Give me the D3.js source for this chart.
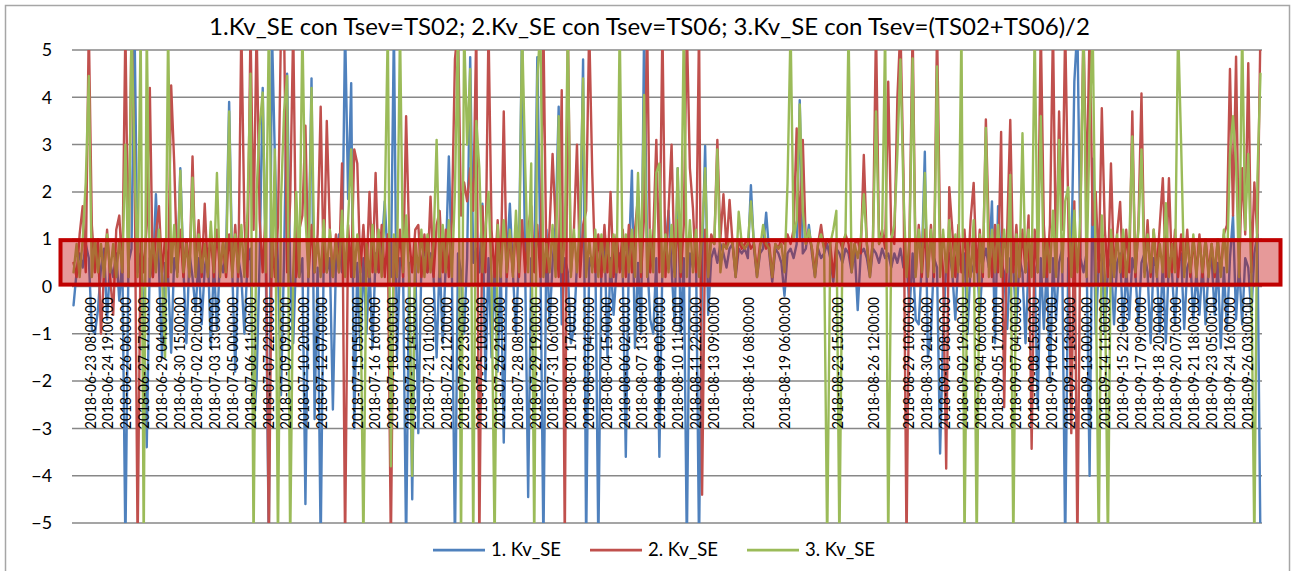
<!DOCTYPE html>
<html><head><meta charset="utf-8">
<script src="https://cdn.jsdelivr.net/npm/d3@7"></script>
<style>body{margin:0;background:#fff}svg{display:block}</style>
</head><body><svg id="c" width="1292" height="571"></svg>
<script>
// ---------------- data ----------------
const chartTitle = "1.Kv_SE con Tsev=TS02; 2.Kv_SE con Tsev=TS06; 3.Kv_SE con Tsev=(TS02+TS06)/2";
const seriesNames = ["1. Kv_SE", "2. Kv_SE", "3. Kv_SE"];
const seriesColors = ["#4F81BD", "#C0504D", "#9BBB59"];
const yTicks = [5, 4, 3, 2, 1, 0, -1, -2, -3, -4, -5];
// category axis: hourly categories, one label every 35 categories (blank = empty category label)
const tickLabels = [
"2018-06-23 08:00:00","2018-06-24 19:00:00","2018-06-26 06:00:00","2018-06-27 17:00:00","2018-06-29 04:00:00",
"2018-06-30 15:00:00","2018-07-02 02:00:00","2018-07-03 13:00:00","2018-07-05 00:00:00","2018-07-06 11:00:00",
"2018-07-07 22:00:00","2018-07-09 09:00:00","2018-07-10 20:00:00","2018-07-12 07:00:00","",
"2018-07-15 05:00:00","2018-07-16 16:00:00","2018-07-18 03:00:00","2018-07-19 14:00:00","2018-07-21 01:00:00",
"2018-07-22 12:00:00","2018-07-23 23:00:00","2018-07-25 10:00:00","2018-07-26 21:00:00","2018-07-28 08:00:00",
"2018-07-29 19:00:00","2018-07-31 06:00:00","2018-08-01 17:00:00","2018-08-03 04:00:00","2018-08-04 15:00:00",
"2018-08-06 02:00:00","2018-08-07 13:00:00","2018-08-09 00:00:00","2018-08-10 11:00:00","2018-08-11 22:00:00",
"2018-08-13 09:00:00","","2018-08-16 08:00:00","","2018-08-19 06:00:00",
"","","2018-08-23 15:00:00","","2018-08-26 12:00:00",
"","2018-08-29 10:00:00","2018-08-30 21:00:00","2018-09-01 08:00:00","2018-09-02 19:00:00",
"2018-09-04 06:00:00","2018-09-05 17:00:00","2018-09-07 04:00:00","2018-09-08 15:00:00","2018-09-10 02:00:00",
"2018-09-11 13:00:00","2018-09-13 00:00:00","2018-09-14 11:00:00","2018-09-15 22:00:00","2018-09-17 09:00:00",
"2018-09-18 20:00:00","2018-09-20 07:00:00","2018-09-21 18:00:00","2018-09-23 05:00:00","2018-09-24 16:00:00",
"2018-09-26 03:00:00"];
const N_CATEGORIES = 2340;
const FIRST_LABEL_CATEGORY = 35;
const LABEL_INTERVAL = 35;
const CATEGORIES_PER_POINT = 6;   // values, one per 6 categories
const highlightBand = [0.04, 0.98]; // red highlighted range of the y axis

const kv1 = [
-0.4,0.3,0.7,0.4,0.9,0.6,-0.9,-1.0,-0.5,0.4,
0.8,-0.7,0.5,0.2,0.7,-0.3,0.6,-5.5,0.5,0.8,
5.5,0.3,0.7,-0.5,-3.4,0.6,0.2,1.95,0.4,-1.5,
0.5,0.2,-1.4,0.6,0.3,2.5,0.4,-1.2,0.7,0.2,
-0.5,0.6,-0.8,0.4,0.8,-1.3,0.5,-0.9,0.6,0.3,
0.7,3.9,0.4,-1.8,0.6,0.2,-1.0,0.5,0.8,-3.0,
-2.0,0.6,4.2,0.5,-5.5,5.5,2.7,0.4,-2.3,0.6,
4.5,0.3,-1.2,0.7,0.2,0.6,-4.6,0.5,4.4,-2.8,
0.4,-5.5,0.7,0.3,0.6,-2.6,0.5,1.1,0.3,5.5,
1.85,4.3,-3.0,0.5,-1.35,0.6,-1.0,0.4,-1.3,0.7,
0.3,0.8,1.8,0.5,0.2,5.5,-1.5,0.6,0.4,-5.5,
0.5,-4.5,0.6,-3.1,0.5,0.8,0.3,0.7,0.2,-1.5,
0.6,-1.2,0.5,2.75,0.4,-5.5,0.7,0.3,-1.0,0.6,
4.85,0.5,0.8,0.3,1.75,-2.0,0.6,-1.5,0.4,-1.8,
0.5,-3.3,0.6,1.75,0.3,-1.0,0.7,5.5,0.5,-4.45,
0.6,0.4,4.85,0.7,-5.5,1.2,-0.8,0.5,1.3,3.8,
-0.8,0.6,0.3,-1.2,-0.9,0.5,0.7,4.8,-5.5,0.6,
0.4,0.8,-5.5,0.5,1.1,-1.5,0.6,-0.6,0.4,0.7,
0.3,-3.6,0.6,2.45,-1.3,0.5,-1.0,5.5,0.6,-0.7,
-1.0,0.6,-3.6,0.5,0.8,1.6,0.4,-0.8,2.5,-1.0,
0.6,-5.5,0.7,0.4,0.8,-5.5,0.5,2.97,-0.6,0.6,
0.8,0.5,0.9,0.7,0.4,0.8,0.9,0.2,0.8,0.7,
0.8,0.6,2.14,0.8,0.2,0.7,0.8,1.56,0.7,0.1,
0.8,0.7,0.5,-0.2,0.7,0.8,0.6,0.9,3.94,0.7,
0.8,1.3,0.7,0.2,0.8,0.6,0.7,0.9,0.6,0.1,
0.8,0.7,0.5,0.8,0.7,0.3,0.8,-0.5,0.7,0.8,
0.6,0.2,0.8,0.7,0.5,0.8,0.6,0.7,0.4,0.7,
0.5,0.8,0.4,0.6,-0.5,0.7,-0.7,-0.8,0.5,2.85,
-1.5,-1.0,0.6,0.4,-3.53,-1.0,0.5,0.7,0.3,-0.7,
0.6,0.4,0.7,-1.0,0.5,0.3,0.7,-0.6,0.5,0.8,
0.4,1.8,-1.2,1.7,0.5,0.3,-0.9,0.6,0.4,-0.8,
0.6,0.3,-1.2,0.5,0.7,0.4,-2.55,0.6,-0.9,0.5,
-2.0,0.6,-0.7,0.5,0.8,-5.5,0.6,0.4,4.33,5.5,
0.6,0.3,0.7,-4.0,2.7,-1.0,0.5,0.7,-1.0,0.4,
0.6,-0.8,0.5,0.7,-0.9,0.4,-0.7,0.6,0.3,-0.8,
0.5,0.7,0.3,-1.2,0.6,0.4,-1.0,0.5,-1.2,0.6,
0.3,-0.8,0.5,0.7,-0.9,0.4,0.6,-0.7,0.3,-0.6,
0.5,-0.8,0.4,0.6,-0.6,0.5,-1.3,0.4,-0.9,0.6,
1.5,-0.7,0.5,-0.8,0.6,0.4,-0.6,0.7,1.1,-5.5];

const kv2 = [
0.5,0.2,1.1,1.7,0.3,5.5,1.3,0.3,1.0,-1.0,
0.3,1.2,0.2,-0.6,1.2,1.5,0.3,5.5,0.2,5.5,
2.7,-5.5,1.0,0.3,1.3,4.2,0.2,1.1,1.7,0.3,
1.0,0.2,4.25,2.6,0.3,1.2,0.2,1.0,0.3,2.75,
0.3,1.4,0.2,1.75,0.3,1.1,0.2,1.2,0.3,0.9,
0.2,1.1,0.3,1.3,0.2,5.5,1.35,0.2,5.5,1.2,
5.5,1.4,0.3,1.6,-5.5,1.1,0.2,1.3,5.5,5.5,
0.3,1.8,5.5,0.2,1.2,1.5,3.4,0.2,1.3,0.3,
1.1,3.8,0.3,3.5,1.2,0.2,1.1,0.3,2.6,-5.5,
1.3,0.2,2.9,2.6,0.3,1.3,0.2,2.0,0.3,2.4,
0.3,1.3,0.2,1.1,-5.5,1.0,0.3,1.2,0.2,3.6,
1.0,0.3,1.2,1.3,0.2,1.1,0.3,1.9,0.2,1.3,
1.6,0.3,1.2,0.2,1.4,4.8,5.5,1.5,2.2,1.8,
2.5,1.6,5.5,-5.5,1.7,0.3,5.5,1.2,0.2,1.4,
0.3,3.7,0.2,1.1,0.3,1.3,0.2,1.4,0.3,1.2,
1.7,0.3,1.3,0.2,5.5,0.3,1.2,2.8,1.3,0.2,
4.15,-5.5,5.5,0.3,1.2,3.0,0.2,1.3,1.6,5.5,
2.4,0.3,1.1,0.2,1.3,0.3,2.0,0.2,1.1,0.3,
1.2,0.2,1.3,0.3,1.2,1.9,0.2,1.5,5.5,0.3,
1.1,3.1,0.3,5.5,0.2,1.6,3.0,0.3,1.4,0.2,
1.3,5.5,2.5,1.65,0.3,5.5,-4.4,1.2,0.3,1.1,
0.9,3.1,1.0,1.95,0.8,1.83,0.9,0.3,1.0,0.8,
0.9,1.0,0.8,0.9,0.3,0.9,1.0,0.8,0.9,0.2,
0.9,0.8,1.0,0.9,1.1,0.9,1.2,3.34,1.0,3.1,
0.9,1.1,0.8,0.3,0.9,1.3,0.8,1.0,0.9,0.2,
0.9,1.0,0.8,1.1,0.9,0.4,0.9,1.0,0.7,2.78,
0.9,0.3,1.0,5.5,0.9,1.2,0.8,4.33,1.1,0.9,
3.98,5.5,2.39,-5.5,1.2,5.5,0.3,1.3,0.2,1.2,
0.3,1.3,0.2,5.5,1.1,0.3,-3.85,2.1,1.2,0.2,
1.3,0.3,1.2,0.2,1.4,2.19,0.3,1.2,0.2,3.53,
1.1,0.2,1.3,0.3,3.27,-2.55,1.2,3.52,0.3,1.3,
0.2,1.2,0.3,1.5,-3.43,1.2,0.3,5.5,1.3,0.2,
1.3,5.5,0.3,3.7,1.2,5.5,1.6,-3.1,1.8,-5.5,
1.5,5.5,1.8,5.5,1.3,2.0,0.3,3.77,1.2,0.2,
2.6,0.3,1.1,1.79,0.2,1.2,0.3,3.7,0.2,1.3,
4.08,0.3,1.4,0.2,1.2,0.3,1.3,2.29,0.2,2.29,
0.3,1.2,0.2,1.1,0.3,1.2,0.2,1.0,0.3,1.1,
0.2,1.0,0.3,0.9,0.2,1.0,0.3,1.1,1.3,4.6,
1.5,4.86,0.3,2.5,1.1,4.72,0.3,2.2,1.0,5.5];

const kv3 = [
0.3,0.9,0.2,1.0,2.2,4.45,0.2,1.0,0.3,0.9,
0.2,1.1,0.3,0.9,0.2,1.0,0.3,3.0,0.2,5.5,
2.6,0.2,5.5,-5.5,5.5,0.2,1.0,0.3,1.2,0.2,
-1.5,5.5,0.3,1.3,0.2,2.45,0.3,0.9,0.2,2.3,
0.2,1.1,0.3,0.9,0.2,1.37,0.3,2.4,0.2,1.0,
0.3,3.7,0.2,1.1,0.3,1.3,0.2,1.6,4.5,-5.5,
2.0,3.4,4.1,0.3,5.5,0.2,2.9,-5.5,1.8,3.7,
4.45,-5.5,0.3,2.0,0.2,5.5,1.5,0.2,4.2,0.3,
1.0,0.2,1.4,0.3,1.2,0.2,1.0,0.3,1.6,0.2,
1.4,2.9,0.2,1.1,0.3,-5.5,0.9,0.2,1.3,0.3,
1.2,0.2,1.6,5.5,-3.8,1.1,0.2,5.5,0.3,1.5,
0.2,-4.0,1.0,0.3,1.2,0.2,1.1,0.3,0.9,3.1,
0.2,1.3,0.3,1.4,0.2,2.0,5.5,-5.5,5.5,3.0,
4.6,-5.5,3.5,2.5,0.3,1.2,2.0,0.2,-5.5,1.3,
0.2,1.4,0.3,1.2,0.2,1.6,0.3,5.5,2.6,0.3,
2.6,-5.5,4.4,5.5,0.2,0.9,0.3,1.3,0.2,3.6,
0.3,1.0,5.5,0.2,1.2,0.3,1.5,4.4,0.2,1.0,
0.3,1.2,0.2,1.1,0.3,1.0,0.2,1.1,0.3,5.5,
0.2,1.1,0.3,1.2,0.2,2.4,0.3,4.05,0.2,1.2,
0.3,2.4,2.6,0.2,1.1,0.3,1.3,0.2,2.5,0.3,
5.5,0.2,1.4,0.3,1.2,0.2,1.1,2.5,0.2,1.0,
0.9,2.9,0.3,0.9,0.8,1.0,0.9,0.2,1.58,0.9,
0.8,0.9,1.8,0.9,0.2,0.8,1.3,0.9,0.8,0.2,
0.9,0.8,0.9,0.3,2.18,5.5,1.0,1.4,3.85,1.6,
0.9,1.2,0.8,0.2,0.9,1.1,0.8,-5.5,0.9,1.2,
1.6,-5.5,0.9,1.1,5.5,0.3,0.9,0.6,1.0,1.95,
0.9,0.2,1.0,3.7,0.9,1.1,5.5,-5.5,1.0,1.3,
2.8,4.8,2.0,0.2,1.0,4.82,0.2,1.2,0.3,2.4,
0.2,1.2,0.3,4.65,0.2,1.2,0.3,1.4,0.2,1.1,
0.3,5.5,-5.5,1.0,0.2,1.4,-5.5,1.1,0.3,3.35,
0.2,1.2,0.3,1.3,0.2,1.2,0.3,2.36,-5.5,1.1,
0.2,3.24,0.3,1.2,0.2,5.5,0.3,3.6,0.2,1.0,
0.3,1.6,0.2,3.1,0.3,1.8,2.1,0.2,1.6,0.3,
1.5,5.5,0.2,3.4,5.5,0.3,-5.5,1.5,0.2,-5.5,
1.2,0.2,1.1,0.3,1.2,0.2,0.9,3.17,0.3,1.2,
2.9,0.2,1.1,0.3,1.2,0.2,0.9,0.3,1.76,0.2,
0.9,0.3,5.5,3.0,0.2,1.0,0.3,1.1,0.2,1.0,
0.3,1.0,0.2,0.9,0.3,1.0,0.2,1.2,0.3,2.8,
3.6,2.6,0.2,5.5,1.2,2.8,0.3,-5.5,2.3,4.5];

// ---------------- drawing ----------------
const FONT = "Lato, 'Open Sans', 'Liberation Sans', sans-serif";
const plot = {left: 72, right: 1262, top: 50, bottom: 523};
const svg = d3.select("#c");

const x = d3.scaleLinear().domain([0, N_CATEGORIES]).range([plot.left, plot.right]);
const y = d3.scaleLinear().domain([-5, 5]).range([plot.bottom, plot.top]);

function fitSize(text, targetWidth, base) {
  const t = svg.append("text").attr("font-family", FONT).attr("font-size", base).text(text);
  const w = t.node().getComputedTextLength();
  t.remove();
  return base * targetWidth / w;
}

// chart border
svg.append("rect").attr("x", 5.5).attr("y", 5.5).attr("width", 1284).attr("height", 620)
  .attr("fill", "#fff").attr("stroke", "#A6A6A6").attr("stroke-width", 1.5);

// gridlines
svg.append("g").selectAll("line").data(yTicks).join("line")
  .attr("x1", plot.left).attr("x2", plot.right)
  .attr("y1", d => y(d)).attr("y2", d => y(d))
  .attr("stroke", "#878787").attr("stroke-width", 1.5);

// series lines
svg.append("clipPath").attr("id", "clip").append("rect")
  .attr("x", plot.left).attr("y", plot.top)
  .attr("width", plot.right - plot.left).attr("height", plot.bottom - plot.top);
const line = d3.line()
  .x((d, i) => x(i * CATEGORIES_PER_POINT + CATEGORIES_PER_POINT / 2))
  .y(d => y(d));
const gLines = svg.append("g").attr("clip-path", "url(#clip)");
[kv1, kv2, kv3].forEach((s, k) => {
  gLines.append("path").attr("d", line(s)).attr("fill", "none")
    .attr("stroke", seriesColors[k]).attr("stroke-width", 2.4)
    .attr("stroke-linejoin", "round").attr("stroke-linecap", "round");
});

// y axis labels
const yAxis = d3.axisLeft(y).tickValues(yTicks).tickSize(0).tickPadding(20).tickFormat(d3.format("d"));
const gy = svg.append("g").attr("transform", `translate(${plot.left},0)`).call(yAxis);
gy.select(".domain").remove();
const ySize = fitSize("-1", 17, 20);
gy.selectAll("text").attr("font-family", FONT).attr("font-size", ySize).attr("fill", "#000");

// highlight band (drawn over the lines)
svg.append("rect")
  .attr("x", plot.left - 11.5).attr("y", y(highlightBand[1]))
  .attr("width", (plot.right - plot.left) + 30).attr("height", y(highlightBand[0]) - y(highlightBand[1]))
  .attr("fill", "rgba(192,0,0,0.4)").attr("stroke", "#C00000").attr("stroke-width", 4);

// category labels (rotated)
const labelTop = y(0) + 10.5;
svg.append("g").selectAll("text")
  .data(tickLabels.map((t, k) => ({t, cat: FIRST_LABEL_CATEGORY + k * LABEL_INTERVAL + 0.5})).filter(d => d.t))
  .join("text")
  .attr("transform", d => `translate(${x(d.cat)},${labelTop}) rotate(-90)`)
  .attr("text-anchor", "end").attr("dy", "0.36em")
  .attr("font-family", FONT).attr("font-size", 15.5).attr("fill", "#000")
  .attr("textLength", 132).attr("lengthAdjust", "spacingAndGlyphs")
  .text(d => d.t);

// title
const tSize = fitSize(chartTitle, 881, 22);
svg.append("text").attr("x", 649.5).attr("y", 35).attr("text-anchor", "middle")
  .attr("font-family", FONT).attr("font-size", tSize).attr("fill", "#000").text(chartTitle);

// legend
const legSize = fitSize(seriesNames[0], 70, 20);
const legX = [433, 590, 747];
const legend = svg.append("g");
seriesNames.forEach((n, k) => {
  legend.append("line").attr("x1", legX[k]).attr("x2", legX[k] + 52)
    .attr("y1", 550).attr("y2", 550).attr("stroke", seriesColors[k]).attr("stroke-width", 2.75);
  legend.append("text").attr("x", legX[k] + 58).attr("y", 550).attr("dy", "0.35em")
    .attr("font-family", FONT).attr("font-size", legSize).attr("fill", "#000").text(n);
});
</script>
</body></html>
